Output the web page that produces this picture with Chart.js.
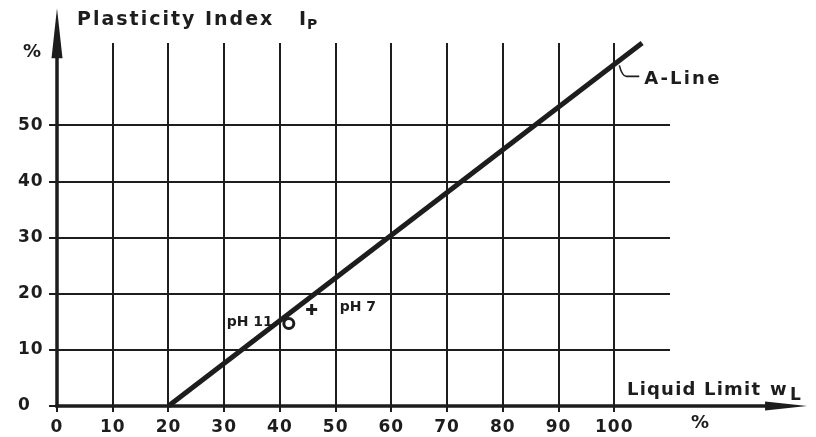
<!DOCTYPE html>
<html>
<head>
<meta charset="utf-8">
<script src="https://cdn.jsdelivr.net/npm/chart.js@4.4.1/dist/chart.umd.min.js"></script>
<style>
  html, body { margin: 0; padding: 0; background: #fff; }
  #wrap { width: 816px; height: 437px; }
</style>
</head>
<body>
<div id="wrap"><canvas id="c" width="816" height="437"></canvas></div>
<script>
// Plasticity chart: A-line with two soil samples
const xTicks = [0, 10, 20, 30, 40, 50, 60, 70, 80, 90, 100];
const yTicks = [0, 10, 20, 30, 40, 50];

const aLineX = [20, 105];
const aLineY = [0, 64.7];

const sampleLabels = ['pH 11', 'pH 7'];
const sampleX = [41.6, 45.7];
const sampleY = [14.7, 17.2];

const INK = '#1d1d1d';
const FONT = 'DejaVu Sans';

// axis extents beyond the plotted range (arrow tips)
const xArrowTip = 134.6;
const yArrowTip = 70.9;

function setFont(ctx, size, spacing) {
  ctx.font = 'bold ' + size + 'px "' + FONT + '"';
  ctx.letterSpacing = (spacing || 0) + 'px';
}

const decorations = {
  id: 'decorations',
  beforeDraw(chart) {
    const ctx = chart.ctx;
    ctx.save();
    ctx.fillStyle = '#ffffff';
    ctx.fillRect(0, 0, chart.width, chart.height);
    ctx.restore();
    // slightly spaced digits on the tick labels
    ctx.letterSpacing = '1px';
  },
  afterDraw(chart) {
    const ctx = chart.ctx;
    const xs = chart.scales.x, ys = chart.scales.y;
    const x0 = xs.getPixelForValue(0), y0 = ys.getPixelForValue(0);
    ctx.save();
    ctx.strokeStyle = INK;
    ctx.fillStyle = INK;
    ctx.lineCap = 'butt';

    // y axis with arrow
    const yTip = ys.getPixelForValue(yArrowTip);
    ctx.lineWidth = 3.5;
    ctx.beginPath();
    ctx.moveTo(x0, y0 + 1.5);
    ctx.lineTo(x0, yTip + 30);
    ctx.stroke();
    ctx.beginPath();
    ctx.moveTo(x0, yTip);
    ctx.lineTo(x0 + 5.5, yTip + 50);
    ctx.lineTo(x0 - 5.5, yTip + 50);
    ctx.closePath();
    ctx.fill();

    // x axis with arrow
    const xTip = xs.getPixelForValue(xArrowTip);
    ctx.beginPath();
    ctx.moveTo(x0 - 1.5, y0);
    ctx.lineTo(xTip - 25, y0);
    ctx.stroke();
    ctx.beginPath();
    ctx.moveTo(xTip, y0);
    ctx.lineTo(xTip - 42, y0 - 4.5);
    ctx.lineTo(xTip - 42, y0 + 4.5);
    ctx.closePath();
    ctx.fill();

    // axis titles
    ctx.textBaseline = 'alphabetic';
    ctx.textAlign = 'left';
    setFont(ctx, 19, 2);
    ctx.fillText('Plasticity Index', 77, 25);
    ctx.fillText('I', 299, 25);
    setFont(ctx, 14, 0);
    ctx.fillText('P', 307, 29);

    setFont(ctx, 18, 1.2);
    ctx.fillText('Liquid Limit', 627, 395);
    setFont(ctx, 18, 0);
    ctx.fillText('w', 770, 395);
    setFont(ctx, 17, 0);
    ctx.fillText('L', 790, 400);

    // unit signs
    setFont(ctx, 18, 0);
    ctx.textAlign = 'center';
    ctx.textBaseline = 'middle';
    ctx.fillText('%', 32, 52);
    ctx.fillText('%', 700, 423);

    // A-line callout
    const ax = xs.getPixelForValue(100);
    const slope = (aLineY[1] - aLineY[0]) / (aLineX[1] - aLineX[0]);
    const ay = ys.getPixelForValue(aLineY[0] + slope * (100 - aLineX[0]));
    ctx.lineWidth = 1.6;
    ctx.beginPath();
    ctx.moveTo(ax + 5, ay + 1);
    ctx.quadraticCurveTo(ax + 8, ay + 12, ax + 12, ay + 12);
    ctx.lineTo(ax + 25, ay + 12);
    ctx.stroke();
    ctx.textAlign = 'left';
    ctx.textBaseline = 'alphabetic';
    setFont(ctx, 18, 2.2);
    ctx.fillText('A-Line', ax + 30, ay + 20);

    // sample labels
    setFont(ctx, 14, 0);
    ctx.textBaseline = 'middle';
    const p11x = xs.getPixelForValue(sampleX[0]), p11y = ys.getPixelForValue(sampleY[0]);
    ctx.textAlign = 'right';
    ctx.fillText(sampleLabels[0], p11x - 16, p11y - 1);
    const p7x = xs.getPixelForValue(sampleX[1]), p7y = ys.getPixelForValue(sampleY[1]);
    ctx.textAlign = 'left';
    ctx.fillText(sampleLabels[1], p7x + 28, p7y - 2);

    ctx.restore();
  }
};

new Chart(document.getElementById('c'), {
  type: 'scatter',
  data: {
    datasets: [
      {
        type: 'line',
        label: 'A-Line',
        data: aLineX.map((x, i) => ({ x, y: aLineY[i] })),
        borderColor: INK,
        borderWidth: 5,
        pointRadius: 0,
        fill: false,
        clip: false,
        order: 2
      },
      {
        label: sampleLabels[0],
        data: [{ x: sampleX[0], y: sampleY[0] }],
        pointStyle: 'circle',
        pointRadius: 5,
        borderWidth: 3,
        borderColor: INK,
        backgroundColor: '#ffffff',
        order: 1
      },
      {
        label: sampleLabels[1],
        data: [{ x: sampleX[1], y: sampleY[1] }],
        pointStyle: 'cross',
        pointRadius: 5.5,
        borderWidth: 3,
        borderColor: INK,
        backgroundColor: INK,
        order: 1
      }
    ]
  },
  options: {
    responsive: false,
    animation: false,
    devicePixelRatio: 1,
    layout: { padding: { left: 18, top: 43, right: 146, bottom: 0 } },
    plugins: {
      legend: { display: false },
      tooltip: { enabled: false },
      title: { display: false }
    },
    scales: {
      x: {
        type: 'linear',
        min: 0,
        max: 110,
        afterBuildTicks(scale) { scale.ticks = xTicks.map(v => ({ value: v })); },
        afterFit(scale) { scale.height = 31; },
        ticks: {
          color: INK,
          font: { family: FONT, weight: 'bold', size: 17 },
          padding: 5,
          maxRotation: 0,
          autoSkip: false,
          callback: v => String(v)
        },
        grid: { color: INK, lineWidth: 2, tickLength: 6, drawTicks: true },
        border: { display: false }
      },
      y: {
        type: 'linear',
        min: 0,
        max: 64.7,
        afterBuildTicks(scale) { scale.ticks = yTicks.map(v => ({ value: v })); },
        afterFit(scale) { scale.width = 39; },
        ticks: {
          color: INK,
          font: { family: FONT, weight: 'bold', size: 17 },
          crossAlign: 'far',
          padding: 4,
          autoSkip: false,
          callback: v => String(v)
        },
        grid: { color: INK, lineWidth: 2, tickLength: 8, drawTicks: true },
        border: { display: false }
      }
    }
  },
  plugins: [decorations]
});
</script>
</body>
</html>
